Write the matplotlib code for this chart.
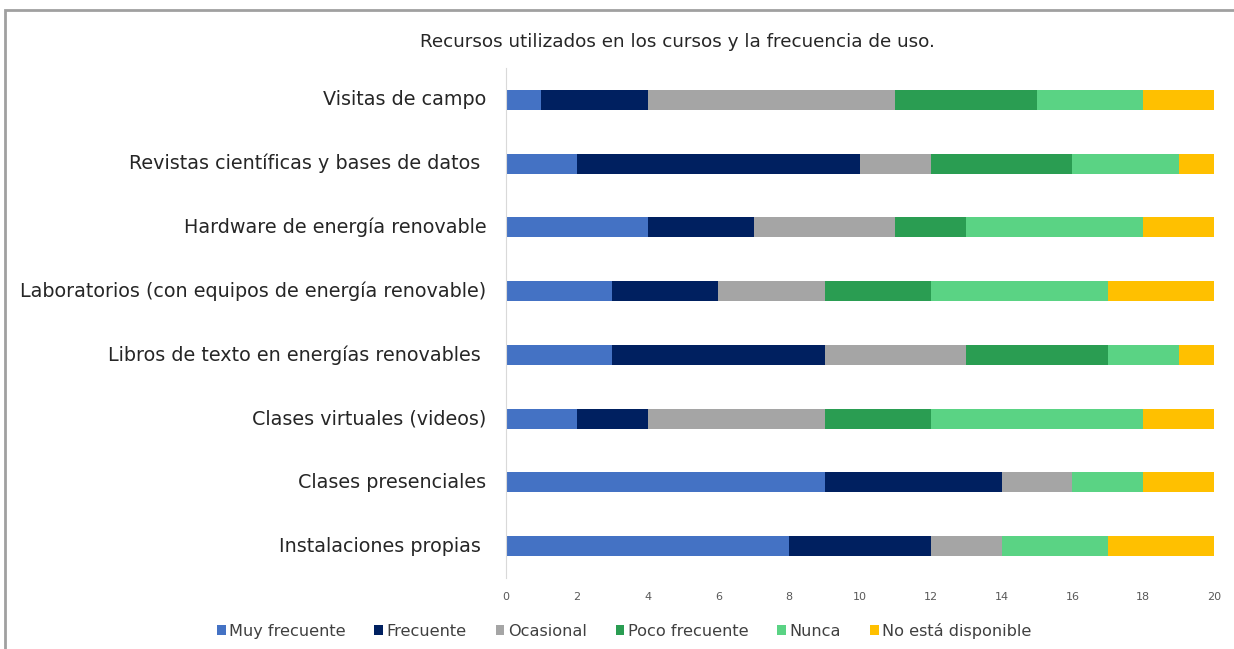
import matplotlib
matplotlib.use("Agg")
import matplotlib.pyplot as plt
from matplotlib.patches import Rectangle
import numpy as np

plt.rcParams['font.family'] = ['DejaVu Sans']

categories = [
    "Visitas de campo",
    "Revistas científicas y bases de datos ",
    "Hardware de energía renovable",
    "Laboratorios (con equipos de energía renovable)",
    "Libros de texto en energías renovables ",
    "Clases virtuales (videos)",
    "Clases presenciales",
    "Instalaciones propias ",
]
series_names = ["Muy frecuente", "Frecuente", "Ocasional", "Poco frecuente", "Nunca", "No está disponible"]
muy_frecuente = [1, 2, 4, 3, 3, 2, 9, 8]
frecuente = [3, 8, 3, 3, 6, 2, 5, 4]
ocasional = [7, 2, 4, 3, 4, 5, 2, 2]
poco_frecuente = [4, 4, 2, 3, 4, 3, 0, 0]
nunca = [3, 3, 5, 5, 2, 6, 2, 3]
no_disponible = [2, 1, 2, 3, 1, 2, 2, 3]
colors = ["#4472C4", "#002060", "#A5A5A5", "#2A9D52", "#5AD384", "#FFC000"]
x_ticks = [0, 2, 4, 6, 8, 10, 12, 14, 16, 18, 20]

data = [muy_frecuente, frecuente, ocasional, poco_frecuente, nunca, no_disponible]

fig = plt.figure(figsize=(12.34, 6.49), dpi=100)
ax = fig.add_axes([506/1234, 1-578/649, (1214-506)/1234, (578-68)/649])

y = np.arange(len(categories))
left = np.zeros(len(categories))
for name, vals, c in zip(series_names, data, colors):
    ax.barh(y, vals, left=left, height=0.31, color=c, label=name, edgecolor='none')
    left += np.array(vals)

ax.set_ylim(len(categories) - 0.5, -0.5)
ax.set_xlim(0, 20)
ax.set_xticks(x_ticks)
ax.set_xticklabels([str(t) for t in x_ticks], fontsize=8, color="#595959")
ax.set_yticks(y)
ax.set_yticklabels(categories, fontsize=13.8, color="#262626", va='center')
ax.tick_params(axis='both', length=0)
ax.tick_params(axis='y', pad=14)
ax.tick_params(axis='x', pad=10)
for s in ['top', 'right', 'bottom']:
    ax.spines[s].set_visible(False)
ax.spines['left'].set_color("#D9D9D9")

fig.text(677/1234, 1 - 42/649, "Recursos utilizados en los cursos y la frecuencia de uso.",
         ha='center', va='center', fontsize=13.2, color="#262626")

handles, labels = ax.get_legend_handles_labels()
leg = fig.legend(handles, labels, loc='center', bbox_to_anchor=(624/1234, 1 - 631/649), ncol=6,
                 frameon=False, fontsize=11.6, handlelength=0.55, handleheight=0.55,
                 handletextpad=0.2, columnspacing=1.8, labelcolor="#404040")

fig.patches.append(Rectangle((5/1234, -0.1), 1.2, 1 - 10/649 + 0.1, transform=fig.transFigure,
                             fill=False, edgecolor="#A0A0A0", linewidth=2))

fig.savefig("out.png", dpi=100)
